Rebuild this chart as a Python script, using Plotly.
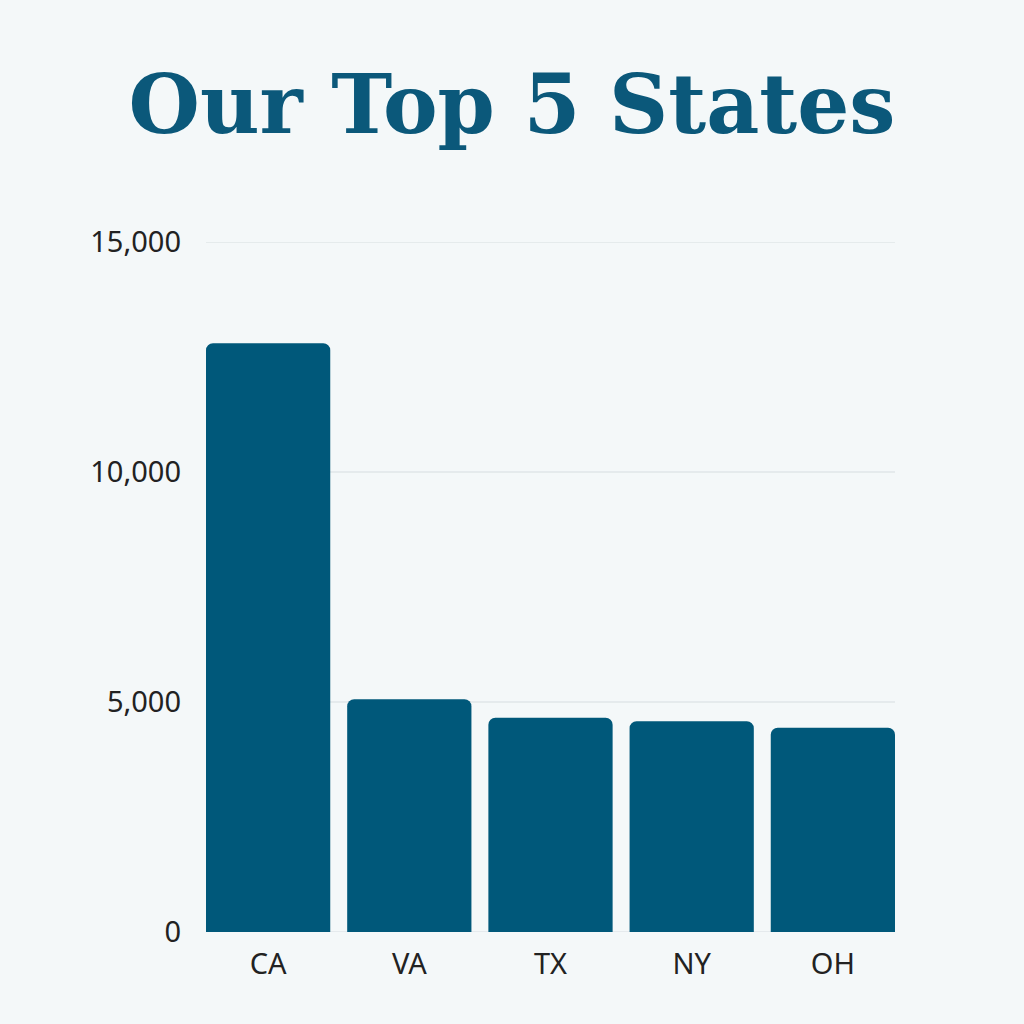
import plotly.graph_objects as go

states = ["CA", "VA", "TX", "NY", "OH"]
values = [12800, 5060, 4660, 4580, 4440]
y_ticks = [0, 5000, 10000, 15000]
y_tick_labels = ["0", "5,000", "10,000", "15,000"]

BAR = "#00587a"
BG = "#f4f8f9"
GRID = "#d6dde0"

fig = go.Figure(go.Bar(
    x=states, y=values,
    marker=dict(color=BAR, cornerradius=7, line=dict(width=0)),
    hoverinfo="x+y",
))

# gridlines as shapes so the top (15,000) line is drawn too
for t in y_ticks:
    fig.add_shape(type="line", xref="paper", yref="y", x0=0, x1=1, y0=t, y1=t,
                  line=dict(color=GRID, width=1), layer="below")

fig.update_layout(
    width=1024, height=1024,
    paper_bgcolor=BG, plot_bgcolor=BG,
    margin=dict(l=206, r=129, t=242, b=92),
    bargap=0.12,
    showlegend=False,
    title=dict(
        text="<b>Our Top 5 States</b>",
        font=dict(family="DejaVu Serif", size=82, color="#0b587a"),
        x=0.5, xanchor="center", xref="container",
        y=1 - 104/1024, yanchor="middle", yref="container",
    ),
    font=dict(family="Noto Sans", color="#222222"),
)

fig.update_xaxes(
    range=[-0.44, 4.44],
    showgrid=False, showline=False, zeroline=False,
    ticks="", tickfont=dict(size=29, family="Noto Sans", color="#222222"),
    ticklabelstandoff=12,
)
fig.update_yaxes(
    range=[0, 15000],
    tickvals=y_ticks, ticktext=y_tick_labels,
    showgrid=False, zeroline=False, showline=False, ticks="",
    tickfont=dict(size=29, family="Noto Sans", color="#222222"),
    ticklabelstandoff=24,
)

fig.write_html(
    "out.html",
    config={"displayModeBar": False},
    post_script="document.body.style.margin='0';document.body.style.overflow='hidden';",
)
